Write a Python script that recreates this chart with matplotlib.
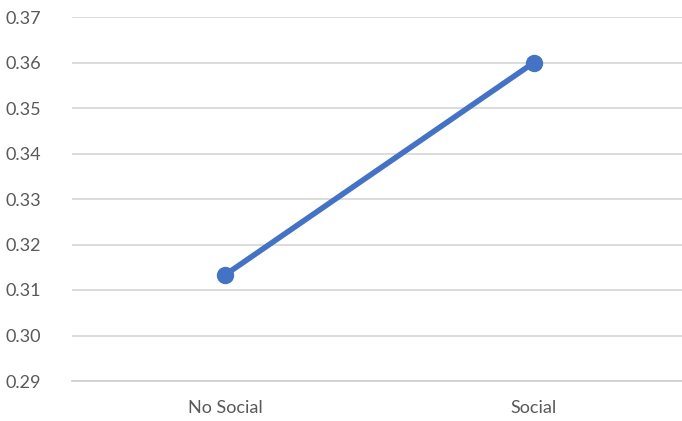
import matplotlib.pyplot as plt

categories = ['No Social', 'Social']
values = [0.3133, 0.36]
yticks = [0.29, 0.30, 0.31, 0.32, 0.33, 0.34, 0.35, 0.36, 0.37]

plt.rcParams['font.family'] = ['Lato', 'DejaVu Sans']

fig = plt.figure(figsize=(6.82, 4.21), dpi=100)
ax = fig.add_axes([72 / 682, 1 - 381 / 421, 610 / 682, 364 / 421])

x = list(range(len(categories)))
ax.plot(x, values, color='#4472C4', linewidth=4.0, marker='o',
        markersize=11.5, solid_capstyle='round', zorder=3, clip_on=False)

ax.set_xlim(-0.495, 1.479)
ax.set_ylim(0.29, 0.37)
ax.set_yticks(yticks)
ax.set_yticklabels([f'{v:.2f}' for v in yticks])
ax.set_xticks(x)
ax.set_xticklabels(categories)

ax.grid(axis='y', color='#D9D9D9', linewidth=1.3)
ax.set_axisbelow(True)
for side in ['top', 'right', 'left']:
    ax.spines[side].set_visible(False)
ax.spines['bottom'].set_color('#D0D0D0')
ax.spines['bottom'].set_linewidth(1.3)

ax.tick_params(axis='both', length=0, labelsize=13, labelcolor='#595959')
ax.tick_params(axis='y', pad=22)
ax.tick_params(axis='x', pad=14)

fig.savefig('out.png', dpi=100)
